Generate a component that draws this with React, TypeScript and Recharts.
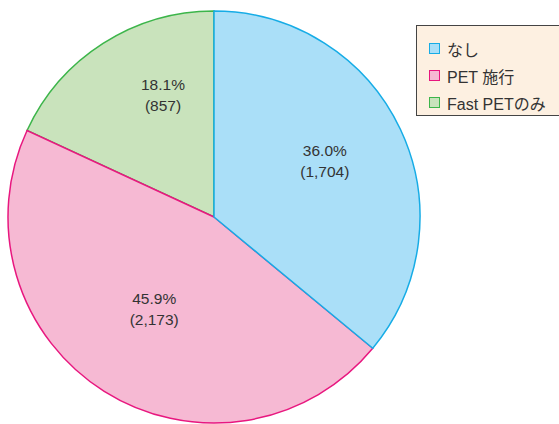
import React from 'react';
import { PieChart, Pie, Cell, Legend } from 'recharts';

const categories = ['なし', 'PET 施行', 'Fast PETのみ'];
const counts = [1704, 2173, 857];
const percents = ['36.0%', '45.9%', '18.1%'];
const countLabels = ['(1,704)', '(2,173)', '(857)'];

const fills = ['#aadff8', '#f6b9d3', '#c9e3bc'];
const strokes = ['#16ace6', '#e8177f', '#3cb54a'];
const labelRadius = [0.605, 0.53, 0.645];
const labelAngleShift = [2, -1, -10];

// drawn counter-clockwise from the top, so reverse the order
const order = [2, 1, 0];
const data = order.map((i) => ({ name: categories[i], value: counts[i], idx: i }));

const RAD = Math.PI / 180;
const FONT = '"Liberation Sans", Arial, "Noto Sans CJK JP", sans-serif';

const renderLabel = (props: any) => {
  const { cx, cy, midAngle, outerRadius, payload } = props;
  const i = payload.idx;
  const a = (midAngle + labelAngleShift[i]) * RAD;
  const r = outerRadius * labelRadius[i];
  const x = cx + r * Math.cos(-a);
  const y = cy + r * Math.sin(-a);
  return (
    <text x={x} y={y} textAnchor="middle" fill="#333" fontSize={15.5} fontFamily={FONT}>
      <tspan x={x} dy={-4}>{percents[i]}</tspan>
      <tspan x={x} dy={21}>{countLabels[i]}</tspan>
    </text>
  );
};

const renderLegend = () => (
  <div
    style={{
      background: '#fdf0e1',
      border: '1.5px solid #444',
      borderRight: 'none',
      width: 143,
      height: 91,
      boxSizing: 'border-box',
      padding: '9px 0 0 12px',
      fontFamily: FONT,
      fontSize: 16,
      color: '#333',
    }}
  >
    {categories.map((c, i) => (
      <div key={c} style={{ display: 'flex', alignItems: 'center', height: 27, whiteSpace: 'nowrap' }}>
        <span
          style={{
            display: 'inline-block',
            width: 9,
            height: 9,
            background: fills[i],
            border: `1.5px solid ${strokes[i]}`,
            marginRight: 7,
            flexShrink: 0,
          }}
        />
        <span>{c}</span>
      </div>
    ))}
  </div>
);

export default function App() {
  return (
    <div style={{ position: 'absolute', left: 0, top: 0, width: 559, height: 424, background: '#fff' }}>
      <PieChart width={559} height={424} margin={{ top: 0, right: 0, bottom: 0, left: 0 }}>
        <Pie
          data={data}
          dataKey="value"
          nameKey="name"
          cx={214}
          cy={217}
          outerRadius={206}
          startAngle={90}
          endAngle={450}
          isAnimationActive={false}
          labelLine={false}
          label={renderLabel}
        >
          {data.map((d) => (
            <Cell key={d.name} fill={fills[d.idx]} stroke={strokes[d.idx]} strokeWidth={1.5} />
          ))}
        </Pie>
        <Legend
          content={renderLegend}
          layout="vertical"
          verticalAlign="top"
          align="right"
          wrapperStyle={{ position: 'absolute', left: 416, top: 25, width: 143 }}
        />
      </PieChart>
    </div>
  );
}
